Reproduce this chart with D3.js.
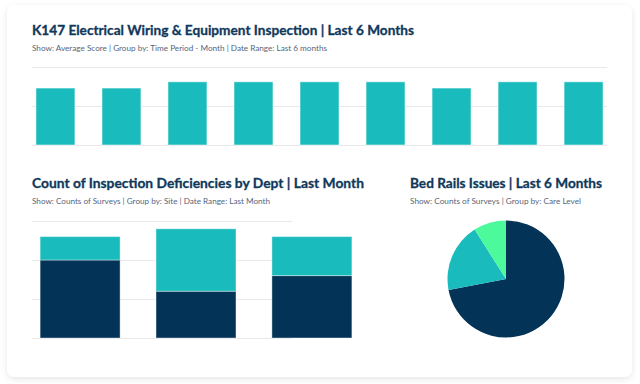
<!DOCTYPE html>
<html>
<head>
<meta charset="utf-8">
<script src="https://cdn.jsdelivr.net/npm/d3@7"></script>
<style>
  html, body { margin: 0; padding: 0; background: #ffffff; }
  svg { display: block; }
  text { font-family: Lato, "Noto Sans", sans-serif; }
</style>
</head>
<body>
<script>
// ---- data ----
var periods = ["P1", "P2", "P3", "P4", "P5", "P6", "P7", "P8", "P9"];
var avgScores = [73, 73, 81, 81, 81, 81, 73, 81, 81];
var scoreTicks = [0, 50, 100];

var sites = ["Site A", "Site B", "Site C"];
var deficienciesOpen = [10, 6, 8];
var deficienciesClosed = [3, 8, 5];
var countTicks = [0, 5, 10, 15];

var careLevels = ["Level 1", "Level 2", "Level 3"];
var bedRailCounts = [72, 19, 9];

// ---- styles ----
var teal = "#19bbbc", navy = "#033457", green = "#4cfa9b";
var titleColor = "#10385b", subColor = "#56657a", gridColor = "#e8e8e8";

var W = 640, H = 384;
var svg = d3.select("body").append("svg")
    .attr("width", W)
    .attr("height", H);

var defs = svg.append("defs");
var f = defs.append("filter").attr("id", "shadow")
    .attr("x", "-5%").attr("y", "-5%").attr("width", "110%").attr("height", "115%");
f.append("feDropShadow")
    .attr("dx", 0).attr("dy", 2)
    .attr("stdDeviation", 3)
    .attr("flood-color", "#000")
    .attr("flood-opacity", 0.1);

// card
svg.append("rect")
    .attr("x", 7).attr("y", 5)
    .attr("width", 625).attr("height", 372)
    .attr("rx", 8)
    .attr("fill", "#ffffff")
    .attr("filter", "url(#shadow)");

function titles(x, y, title, titleW, sub, subW) {
    svg.append("text")
        .attr("x", x).attr("y", y)
        .attr("fill", titleColor)
        .attr("stroke", titleColor)
        .attr("stroke-width", 0.3)
        .attr("font-size", 13.5)
        .attr("font-weight", 700)
        .attr("textLength", titleW)
        .attr("lengthAdjust", "spacingAndGlyphs")
        .text(title);
    svg.append("text")
        .attr("x", x).attr("y", y + 16)
        .attr("fill", subColor)
        .attr("font-size", 8)
        .attr("textLength", subW)
        .attr("lengthAdjust", "spacingAndGlyphs")
        .text(sub);
}

function grid(y, ticks, x0, x1) {
    var g = svg.append("g")
        .attr("transform", "translate(" + x0 + ",0)")
        .call(d3.axisLeft(y).tickValues(ticks).tickSize(-(x1 - x0)).tickFormat(""));
    g.select(".domain").remove();
    g.selectAll(".tick line")
        .attr("stroke", gridColor)
        .attr("stroke-width", 1.2);
}

/* top chart: average score */
titles(32, 35, "K147 Electrical Wiring & Equipment Inspection | Last 6 Months", 382,
    "Show: Average Score | Group by: Time Period - Month | Date Range: Last 6 months", 295);

var x1 = d3.scaleBand()
    .domain(periods)
    .range([32, 607])
    .paddingInner(0.41)
    .paddingOuter(0.06);

var y1 = d3.scaleLinear()
    .domain([0, 100])
    .range([145, 67]);

grid(y1, scoreTicks, 32, 607);

svg.append("g")
    .selectAll("rect")
    .data(avgScores)
    .join("rect")
    .attr("x", (d, i) => x1(periods[i]))
    .attr("width", x1.bandwidth())
    .attr("y", d => y1(d))
    .attr("height", d => y1(0) - y1(d))
    .attr("fill", teal)
    .attr("stroke", "#ffffff")
    .attr("stroke-opacity", 0.5)
    .attr("stroke-width", 1);

/* bottom left: stacked deficiencies */
titles(32, 188, "Count of Inspection Deficiencies by Dept | Last Month", 332,
    "Show: Counts of Surveys | Group by: Site | Date Range: Last Month", 238);

var x2 = d3.scaleBand()
    .domain(sites)
    .range([32, 360])
    .paddingInner(0.31)
    .paddingOuter(0.07);

var y2 = d3.scaleLinear()
    .domain([0, 15])
    .range([338, 221]);

grid(y2, countTicks, 32, 292);

var stackRows = sites.map((s, i) => ({ site: s, open: deficienciesOpen[i], closed: deficienciesClosed[i] }));
var series = d3.stack().keys(["open", "closed"])(stackRows);
var stackColors = { open: navy, closed: teal };

svg.append("g")
    .selectAll("g")
    .data(series)
    .join("g")
    .attr("fill", d => stackColors[d.key])
    .selectAll("rect")
    .data(d => d)
    .join("rect")
    .attr("x", d => x2(d.data.site))
    .attr("width", x2.bandwidth())
    .attr("y", d => y2(d[1]))
    .attr("height", d => y2(d[0]) - y2(d[1]))
    .attr("stroke", "#ffffff")
    .attr("stroke-opacity", 0.4)
    .attr("stroke-width", 1);

/* bottom right: pie */
titles(410, 188, "Bed Rails Issues | Last 6 Months", 192,
    "Show: Counts of Surveys | Group by: Care Level", 171);

var pieColors = [navy, teal, green];
var pie = d3.pie().sort(null)(bedRailCounts);
var arc = d3.arc().innerRadius(0).outerRadius(58.5);

svg.append("g")
    .attr("transform", "translate(506,279)")
    .selectAll("path")
    .data(pie)
    .join("path")
    .attr("d", arc)
    .attr("fill", (d, i) => pieColors[i]);
</script>
</body>
</html>
